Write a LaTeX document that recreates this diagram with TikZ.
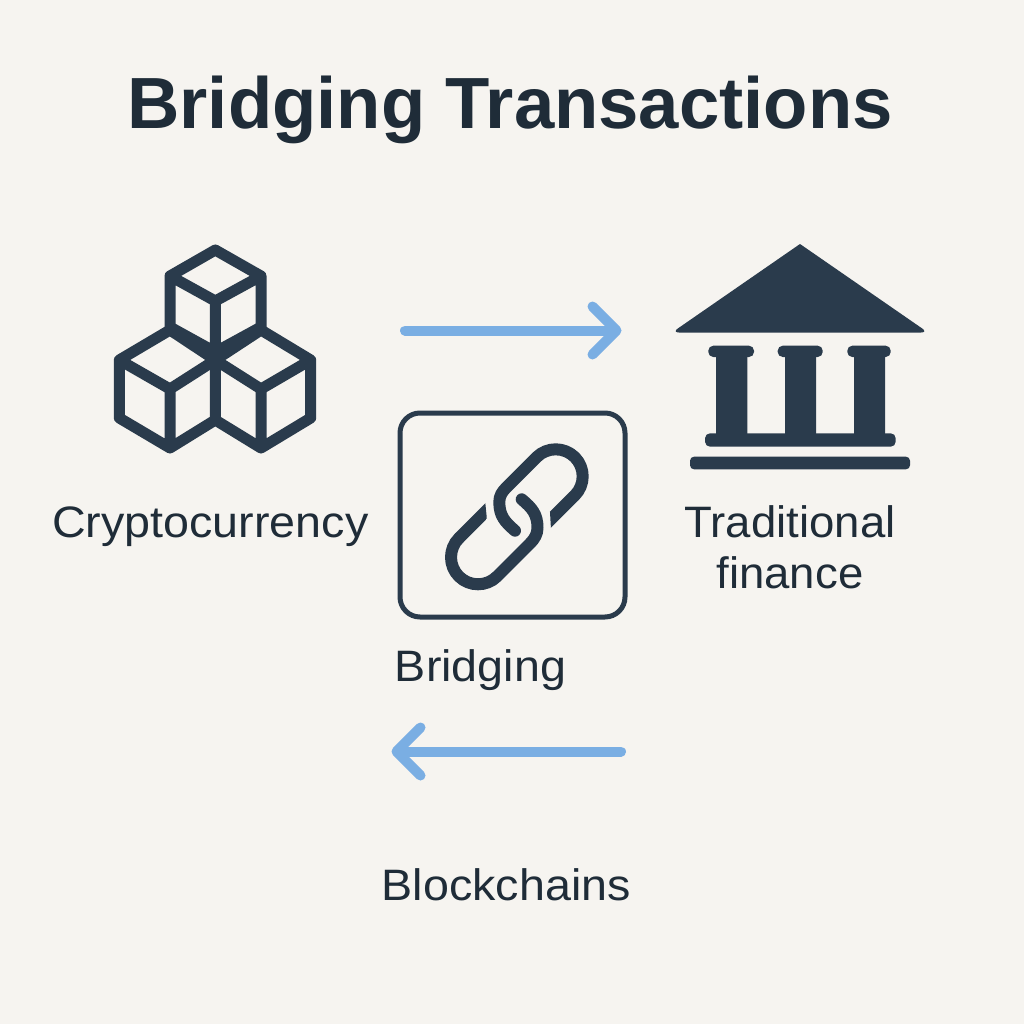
\documentclass[tikz,border=0pt]{standalone}
\usepackage{fontspec}
\usetikzlibrary{arrows.meta}
\setmainfont{Liberation Sans}
\newfontfamily\labwide[FakeStretch=1.06]{Liberation Sans}
\newfontfamily\labnarrow[FakeStretch=1.035]{Liberation Sans}
\definecolor{bgc}{HTML}{F6F4F0}
\definecolor{ink}{HTML}{2A3B4C}
\definecolor{txt}{HTML}{1F2C38}
\definecolor{blu}{HTML}{7AAEE3}
\tikzset{
  lab/.style={text=txt,inner sep=0pt,anchor=base,font=\labwide\fontsize{44}{51}\selectfont,align=center},
  ttl/.style={text=txt,inner sep=0pt,anchor=base,font=\bfseries\fontsize{72.5}{80}\selectfont},
  cube/.style={draw=ink,line width=11pt,line join=round,line cap=round},
  linkline/.style={draw=ink,line width=12pt,line join=round},
  flow/.style={draw=blu,line width=10pt,line cap=round,line join=round,-{Straight Barb[length=24pt,width=48pt,round,line width=10pt]}},
}
\begin{document}
\begin{tikzpicture}[x=1pt,y=-1pt]
\useasboundingbox (0,0) rectangle (1024,1024);
\fill[bgc] (0,0) rectangle (1024,1024);
\node[ttl] (title) at (510,128.3) {Bridging Transactions};
% cubes
\draw[cube] (215.3,250) -- (261,276) -- (261,327) -- (215.3,352) -- (170,327) -- (170,276) -- cycle
  (170,276) -- (215.3,301) -- (261,276) (215.3,301) -- (215.3,420);
\draw[cube] (170,330) -- (119.3,360) -- (119.3,418) -- (170,448) -- (215.3,420) -- (261,448) -- (310.7,418) -- (310.7,360) -- (261,330)
  (119.3,360) -- (170,389) -- (215.3,360) -- (261,389) -- (310.7,360)
  (170,389) -- (170,448) (261,389) -- (261,448) (170,330) -- (215.3,360) -- (261,330);
\node[lab] (crypto) at (210.3,537) {Cryptocurrency};
% bank
\fill[ink] (800,244) [rounded corners=7pt] -- (928,332.5) -- (672,332.5) [sharp corners] -- cycle;
\fill[ink,rounded corners=5pt] (708.3,345.7) rectangle (754,357);
\fill[ink,rounded corners=5pt] (777.7,345.7) rectangle (822.7,357);
\fill[ink,rounded corners=5pt] (847.3,345.7) rectangle (890.7,357);
\fill[ink] (716,350) rectangle (747.3,440) (785,350) rectangle (816,440) (854,350) rectangle (885,440);
\fill[ink,rounded corners=5pt] (705,433.3) rectangle (895.7,446.7);
\fill[ink,rounded corners=4pt] (690,456.7) rectangle (910,469.3);
\node[lab,font=\labnarrow\fontsize{44}{51}\selectfont] (trad) at (790,588.3) {Traditional\\finance};
% bridging
\node[draw=ink,line width=5pt,rounded corners=20pt,minimum width=225pt,minimum height=204pt,inner sep=0pt] (box) at (512.5,515) {};
\draw[linkline,line cap=round] (515,530.7) .. controls (505,522) and (499.3,516) .. (499.3,502)
  .. controls (499.3,496) and (502,491.8) .. (506.7,487.1) -- (536.6,457.2)
  .. controls (547.1,446.7) and (564.3,446.7) .. (574.8,457.2)
  .. controls (585.3,467.7) and (585.3,484.9) .. (574.8,495.4);
\begin{scope}
\clip (549.3,500) -- (551.3,535) -- (600,535) -- (600,480) -- cycle;
\draw[linkline] (574.8,495.4) -- (540,530.2);
\end{scope}
\draw[linkline,line cap=round] (521.7,499.3) .. controls (532,508) and (537.5,514) .. (537.5,528)
  .. controls (537.5,534) and (534.5,539) .. (530,543.5) -- (497.1,576.4)
  .. controls (486.6,586.9) and (469.4,586.9) .. (458.9,576.4)
  .. controls (448.4,565.9) and (448.4,548.7) .. (458.9,538.2);
\begin{scope}
\clip (485,500) -- (486.7,517) -- (486.7,560) -- (440,560) -- (440,500) -- cycle;
\draw[linkline] (458.9,538.2) -- (493.7,503.4);
\end{scope}
\node[lab] (bridging) at (480.5,681.7) {Bridging};
\coordinate (a1) at (405,330.5);
\coordinate (a2) at (621.5,330.5);
\coordinate (b1) at (621,751.5);
\coordinate (b2) at (391.5,751.5);
\draw[flow] (a1) -- (a2);
\draw[flow] (b1) -- (b2);
\node[lab] (chains) at (506.3,900) {Blockchains};
\end{tikzpicture}
\end{document}
